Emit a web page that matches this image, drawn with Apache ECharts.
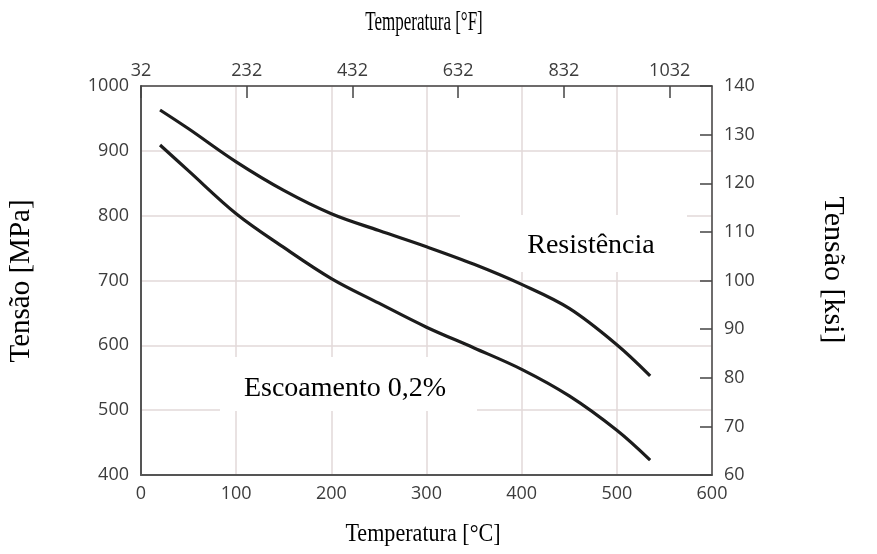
<!DOCTYPE html>
<html>
<head>
<meta charset="utf-8">
<script src="https://cdn.jsdelivr.net/npm/echarts@6/dist/echarts.min.js"></script>
<style>html,body{margin:0;padding:0;background:#fff}#c{width:877px;height:554px}</style>
</head>
<body>
<div id="c"></div>
<script>
// Data (temperature in °C, stress in MPa)
const tempC = [20, 50, 100, 150, 200, 250, 300, 350, 400, 450, 500, 535];
const resistencia = [963, 934, 883, 839, 803, 777, 752, 725, 694, 657, 601, 553];
const escoamento = [909, 869, 803, 751, 703, 665, 628, 596, 563, 522, 469, 423];
const fahrenheitTicks = [32, 232, 432, 632, 832, 1032];
const labelResist = 'Resistência';
const labelEscoa = 'Escoamento 0,2%';
const titleTop = 'Temperatura [°F]';
const titleBottom = 'Temperatura [°C]';
const titleLeft = 'Tensão [MPa]';
const titleRight = 'Tensão [ksi]';

const serif = '"Liberation Serif","DejaVu Serif",serif';
const sans = '"Open Sans","Noto Sans",sans-serif';
const fPos = fahrenheitTicks.map(f => (f - 32) * 5 / 9);
const labelColor = '#3c3c3c';

const chart = echarts.init(document.getElementById('c'), null, {renderer: 'canvas'});
chart.setOption({
  animation: false,
  backgroundColor: '#fff',
  grid: {left: 141, right: 165, top: 86, bottom: 79},
  xAxis: [{
    type: 'value', position: 'bottom', min: 0, max: 600, interval: 100,
    axisLine: {onZero: false, lineStyle: {color: '#555', width: 2}},
    axisTick: {show: false},
    axisLabel: {margin: 10, fontFamily: sans, fontSize: 18, color: labelColor},
    splitLine: {show: true, lineStyle: {color: '#e2d8d8', width: 1.5}}
  }, {
    type: 'value', position: 'top', min: 0, max: 600,
    axisLine: {onZero: false, lineStyle: {color: '#444', width: 1.5}},
    axisTick: {show: true, inside: true, length: 12, customValues: fPos, lineStyle: {color: '#444', width: 1.5}},
    axisLabel: {margin: 6, customValues: fPos, fontFamily: sans, fontSize: 18, color: labelColor,
      formatter: v => String(Math.round(v * 9 / 5 + 32))},
    splitLine: {show: false}
  }],
  yAxis: [{
    type: 'value', position: 'left', min: 400, max: 1000, interval: 100,
    axisLine: {show: true, onZero: false, lineStyle: {color: '#555', width: 2}},
    axisTick: {show: false},
    axisLabel: {margin: 12, fontFamily: sans, fontSize: 18, color: labelColor, formatter: v => String(v)},
    splitLine: {show: true, lineStyle: {color: '#e2d8d8', width: 1.5}}
  }, {
    type: 'value', position: 'right', min: 60, max: 140, interval: 10,
    axisLine: {show: true, onZero: false, lineStyle: {color: '#444', width: 1.5}},
    axisTick: {show: true, inside: true, length: 12, lineStyle: {color: '#444', width: 1.5}},
    axisLabel: {margin: 12, fontFamily: sans, fontSize: 18, color: labelColor},
    splitLine: {show: false}
  }],
  graphic: [
    {type: 'rect', z: 1, shape: {x: 460, y: 215, width: 227, height: 57}, style: {fill: '#fff'}},
    {type: 'text', z: 1, x: 591, y: 246, style: {text: labelResist, font: '28px ' + serif, fill: '#000', align: 'center', verticalAlign: 'middle'}},
    {type: 'rect', z: 1, shape: {x: 220, y: 357, width: 257, height: 54}, style: {fill: '#fff'}},
    {type: 'text', z: 1, x: 345, y: 389, style: {text: labelEscoa, font: '28px ' + serif, fill: '#000', align: 'center', verticalAlign: 'middle'}},
    {type: 'text', z: 1, x: 424, y: 23, scaleX: 0.63, style: {text: titleTop, font: '27px ' + serif, fill: '#000', align: 'center', verticalAlign: 'middle'}},
    {type: 'text', z: 1, x: 423, y: 534, scaleX: 0.85, style: {text: titleBottom, font: '26px ' + serif, fill: '#000', align: 'center', verticalAlign: 'middle'}},
    {type: 'text', z: 1, x: 21, y: 281, rotation: Math.PI / 2, style: {text: titleLeft, font: '29px ' + serif, fill: '#000', align: 'center', verticalAlign: 'middle'}},
    {type: 'text', z: 1, x: 833, y: 270, rotation: -Math.PI / 2, style: {text: titleRight, font: '30px ' + serif, fill: '#000', align: 'center', verticalAlign: 'middle'}}
  ],
  series: [{
    type: 'line', name: labelResist, xAxisIndex: 0, yAxisIndex: 0, z: 5,
    data: tempC.map((t, i) => [t, resistencia[i]]),
    smooth: 0.35, showSymbol: false, lineStyle: {color: '#1c1c1c', width: 3.2}
  }, {
    type: 'line', name: labelEscoa, xAxisIndex: 0, yAxisIndex: 0, z: 5,
    data: tempC.map((t, i) => [t, escoamento[i]]),
    smooth: 0.35, showSymbol: false, lineStyle: {color: '#1c1c1c', width: 3.2}
  }]
});
</script>
</body>
</html>
